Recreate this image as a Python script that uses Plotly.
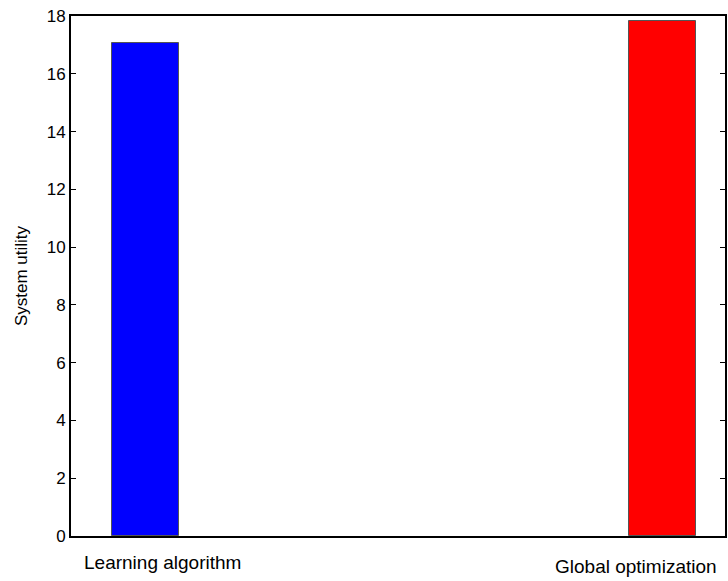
import plotly.graph_objects as go

# Bar data
methods = ["Learning algorithm", "Global optimization"]
positions = [1, 2]
utility = [17.05, 17.84]
colors = ["#0000FF", "#FF0000"]

# Axis settings
y_ticks = [0, 2, 4, 6, 8, 10, 12, 14, 16, 18]
label_x = [1.034, 1.949]
label_shift = [-26, -30]

FONT = "Liberation Sans, Arial, sans-serif"

fig = go.Figure()
fig.add_trace(go.Bar(
    x=positions,
    y=utility,
    width=0.129,
    marker=dict(color=colors, line=dict(color="#555555", width=1)),
    showlegend=False,
))

for name, lx, sh in zip(methods, label_x, label_shift):
    fig.add_annotation(
        x=lx, y=0, xref="x", yref="y", text=name, showarrow=False,
        yshift=sh, font=dict(family=FONT, size=19, color="black"),
    )

fig.update_layout(
    width=728, height=581,
    margin=dict(l=71, r=1, t=16, b=45),
    paper_bgcolor="white", plot_bgcolor="white",
    font=dict(family=FONT, size=17, color="black"),
    bargap=0,
)
fig.update_xaxes(
    range=[0.8564, 2.121], showticklabels=False, ticks="",
    showgrid=False, zeroline=False,
    showline=True, linecolor="black", linewidth=2, mirror=True,
)
fig.update_yaxes(
    range=[0, 18], tickvals=y_ticks, ticks="inside", ticklen=5,
    tickcolor="black", tickwidth=1,
    showgrid=False, zeroline=False,
    showline=True, linecolor="black", linewidth=2, mirror="ticks",
    title=dict(text="System utility", font=dict(family=FONT, size=17), standoff=15),
    tickfont=dict(family=FONT, size=17),
)

fig.write_html("out.html")
